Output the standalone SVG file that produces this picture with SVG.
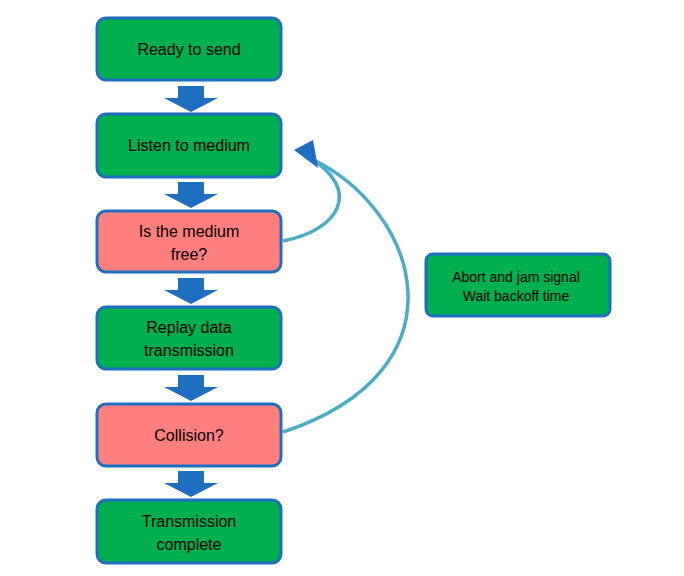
<svg xmlns="http://www.w3.org/2000/svg" width="684" height="576" viewBox="0 0 684 576">
<style>
.b{stroke:#1F6FC0;stroke-width:3}
.g{fill:#00B050}.r{fill:#FF7F7F}
text{font-family:"Liberation Sans",Arial,sans-serif;font-size:16px;fill:#000;text-anchor:middle}
.s{font-size:14px}
.c{fill:none;stroke:#4BACC6;stroke-width:3.5}
.ar{fill:#1F6FC0}
</style>
<rect width="684" height="576" fill="#fff"/>
<g id="connectors">
<polygon class="ar" points="178,86 204,86 204,98 218,98 191,112 164,98 178,98"/>
<polygon class="ar" points="178,182 204,182 204,194 218,194 191,208 164,194 178,194"/>
<polygon class="ar" points="178,278 204,278 204,290 218,290 191,304 164,290 178,290"/>
<polygon class="ar" points="178,375 204,375 204,387 218,387 191,401 164,387 178,387"/>
<polygon class="ar" points="178,471 204,471 204,483 218,483 191,497 164,483 178,483"/>
<path class="c" d="M283,241 C340,230 362,190 310,158"/>
<path class="c" d="M283,432 C470,370 420,210 310,158"/>
<polygon class="ar" points="294,150 313,140 318,168"/>
</g>
<g id="n1"><rect class="b g" x="97" y="18" width="184" height="62" rx="9"/><text x="189" y="55">Ready to send</text></g>
<g id="n2"><rect class="b g" x="97" y="114" width="184" height="63" rx="9"/><text x="189" y="151">Listen to medium</text></g>
<g id="n3"><rect class="b r" x="97" y="211" width="184" height="61" rx="9"/><text x="189" y="237">Is the medium</text><text x="189" y="260">free?</text></g>
<g id="n4"><rect class="b g" x="97" y="307" width="184" height="62" rx="9"/><text x="189" y="333">Replay data</text><text x="189" y="356">transmission</text></g>
<g id="n5"><rect class="b r" x="97" y="404" width="184" height="62" rx="9"/><text x="189" y="441">Collision?</text></g>
<g id="n6"><rect class="b g" x="97" y="500" width="184" height="63" rx="9"/><text x="189" y="527">Transmission</text><text x="189" y="550">complete</text></g>
<g id="n7"><rect class="b g" x="426" y="254" width="184" height="62" rx="7"/><text class="s" x="516" y="282">Abort and jam signal</text><text class="s" x="516" y="301">Wait backoff time</text></g>
</svg>
